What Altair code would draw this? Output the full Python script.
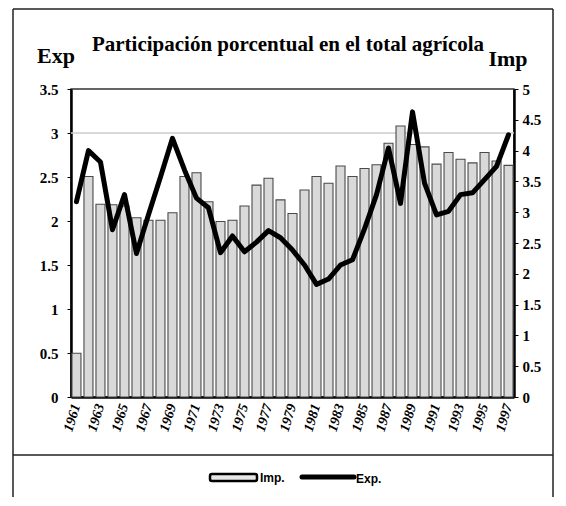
import altair as alt
import pandas as pd

years = [str(y) for y in range(1961, 1998)]
imp = [0.71, 3.58, 3.13, 3.12, 3.10, 2.91, 2.87, 2.87, 2.99, 3.58,
       3.64, 3.17, 2.85, 2.87, 3.10, 3.44, 3.55, 3.20, 2.98, 3.36,
       3.58, 3.47, 3.75, 3.58, 3.71, 3.77, 4.12, 4.40, 4.10, 4.06,
       3.78, 3.97, 3.86, 3.80, 3.97, 3.83, 3.76]
exp = [2.22, 2.80, 2.67, 1.90, 2.30, 1.63, 2.07, 2.50, 2.94, 2.58,
       2.26, 2.15, 1.64, 1.83, 1.65, 1.76, 1.89, 1.81, 1.67, 1.50,
       1.28, 1.34, 1.50, 1.56, 1.91, 2.30, 2.83, 2.20, 3.24, 2.43,
       2.07, 2.11, 2.30, 2.32, 2.47, 2.62, 2.98]
label_years = [str(y) for y in range(1961, 1998, 2)]
left_ticks = [0, 0.5, 1, 1.5, 2, 2.5, 3, 3.5]
right_ticks = [0, 0.5, 1, 1.5, 2, 2.5, 3, 3.5, 4, 4.5, 5]

title_text = "Participación porcentual en el total agrícola"
left_title = "Exp"
right_title = "Imp"
legend_imp = "Imp."
legend_exp = "Exp."

df = pd.DataFrame({"year": years, "imp": imp, "exp": exp})
one = pd.DataFrame({"k": [0]})

SERIF = "Liberation Serif"
SANS = "Liberation Sans"

xenc = alt.X("year:O", sort=years, title=None,
             scale=alt.Scale(paddingInner=0.25, paddingOuter=0.08),
             axis=alt.Axis(values=label_years, labelAngle=287, labelFont=SERIF,
                           labelFontWeight="bold", labelFontStyle="italic",
                           labelFontSize=14, labelColor="black",
                           domainColor="black", domainWidth=2.5, ticks=False,
                           labelPadding=7))

axis_common = dict(grid=False, format="~g", labelFont=SERIF, labelFontWeight="bold",
                   labelFontSize=15, labelColor="black", domainColor="black",
                   domainWidth=2.5, tickColor="black", tickSize=4)

bars = alt.Chart(df).mark_bar(fill="#d9d9d9", stroke="#4a4a4a", strokeWidth=1.1).encode(
    x=xenc,
    y=alt.Y("imp:Q", title=None, scale=alt.Scale(domain=[0, 5], nice=False),
            axis=alt.Axis(orient="right", values=right_ticks, labelPadding=4,
                          **axis_common)),
)

grid = alt.Chart(one).mark_rule(color="#cccccc", strokeWidth=1.5).encode(
    y=alt.Y("v:Q", scale=alt.Scale(domain=[0, 3.5], nice=False), axis=None),
).transform_calculate(v="3")

line = alt.Chart(df).mark_line(color="black", strokeWidth=5, strokeCap="round",
                               strokeJoin="round").encode(
    x=alt.X("year:O", sort=years),
    y=alt.Y("exp:Q", title=None, scale=alt.Scale(domain=[0, 3.5], nice=False),
            axis=alt.Axis(orient="left", values=left_ticks, labelPadding=9,
                          **axis_common)),
)

def txt(s, x, y, size, font=SERIF, align="center"):
    return alt.Chart(pd.DataFrame({"t": [s]})).mark_text(
        font=font, fontWeight="bold", fontSize=size, color="black",
        align=align, baseline="middle").encode(
        text="t:N", x=alt.value(x), y=alt.value(y))

title = txt(title_text, 217, -44, 21)
exp_t = txt(left_title, -15, -33, 22)
imp_t = txt(right_title, 437, -30, 22)

leg_rect = alt.Chart(one).mark_rect(fill="#e6e6e6", stroke="black", strokeWidth=2.5,
                                    cornerRadius=2).encode(
    x=alt.value(139), x2=alt.value(186), y=alt.value(385), y2=alt.value(392))
leg_line = alt.Chart(one).mark_rule(color="black", strokeWidth=5, strokeCap="round").encode(
    x=alt.value(231), x2=alt.value(283), y=alt.value(388))
leg_imp = txt(legend_imp, 189, 389, 12, font=SANS, align="left")
leg_exp = txt(legend_exp, 285, 390, 12, font=SANS, align="left")

frame = [
    alt.Chart(one).mark_rule(color="#222", strokeWidth=1.5).encode(
        x=alt.value(-58), y=alt.value(-80), y2=alt.value(409)),
    alt.Chart(one).mark_rule(color="#222", strokeWidth=1.5).encode(
        x=alt.value(482), y=alt.value(-80), y2=alt.value(409)),
    alt.Chart(one).mark_rule(color="#222", strokeWidth=1.5).encode(
        x=alt.value(-58), x2=alt.value(482), y=alt.value(366)),
    alt.Chart(one).mark_rule(color="#222", strokeWidth=1.5).encode(
        x=alt.value(-58), x2=alt.value(482), y=alt.value(-80)),
]

chart = alt.layer(grid, bars, line, title, exp_t, imp_t, leg_rect, leg_line,
                  leg_imp, leg_exp, *frame).resolve_scale(y="independent").properties(
    width=443, height=308,
    autosize=alt.AutoSizeParams(type="none"),
    padding={"left": 63, "top": 81, "right": 42, "bottom": 100},
).configure_view(stroke="#333", strokeWidth=1.5)

chart.save("out.html", embed_options={"renderer": "svg", "actions": False})
